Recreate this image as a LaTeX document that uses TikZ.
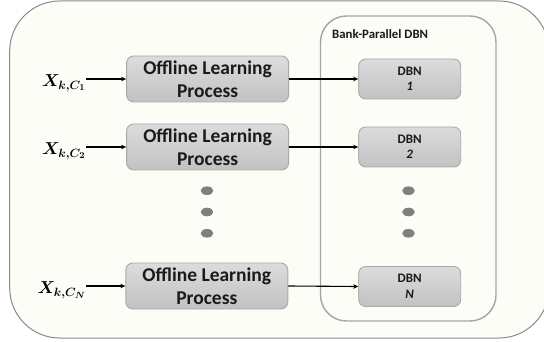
\documentclass[tikz,border=0pt]{standalone}
\usepackage{fontspec}
\setmainfont{Carlito}
\usepackage{amsmath}
\usepackage{bm}
\usetikzlibrary{arrows.meta}
\definecolor{pagecream}{HTML}{FDFDF8}
\definecolor{framegray}{HTML}{8A8A8A}
\definecolor{bankgray}{HTML}{A4A4A4}
\definecolor{boxtop}{HTML}{DCDCDC}
\definecolor{boxbot}{HTML}{C2C2C2}
\definecolor{boxline}{HTML}{A8A8A8}
\definecolor{dotgray}{HTML}{7F7F7F}
\definecolor{inktext}{HTML}{1A1A1A}
\tikzset{
  learnbox/.style={draw=boxline, line width=0.9pt, rounded corners=7pt,
    top color=boxtop, bottom color=boxbot, minimum width=162pt, minimum height=46pt,
    inner sep=0pt, align=center, text=inktext,
    font=\fontsize{19.5}{23.4}\selectfont\bfseries},
  dbnbox/.style={draw=boxline, line width=0.9pt, rounded corners=7pt,
    top color=boxtop, bottom color=boxbot, minimum width=102pt, minimum height=40pt,
    inner sep=0pt, align=center, text=inktext,
    font=\fontsize{13}{15.5}\selectfont\bfseries},
  inlabel/.style={inner sep=0pt, anchor=base east, font=\fontsize{18}{21}\selectfont},
  feed/.style={line width=1.1pt, -{Stealth[length=5pt,width=4.5pt]}},
  dotmark/.style={fill=dotgray, draw=none},
}
\begin{document}
\begin{tikzpicture}[x=1pt,y=-1pt]
  \useasboundingbox (0,0) rectangle (544,342);
  \clip (0,0) rectangle (544,342);
  \fill[white] (0,0) rectangle (544,342);
  % outer frame
  \draw[framegray, line width=1pt, fill=pagecream, rounded corners=50pt]
    (9.7,1) rectangle (549,338);
  % bank of parallel networks
  \draw[bankgray, line width=1.4pt, rounded corners=26pt]
    (320.5,16) rectangle (496,321);
  \node[anchor=west, inner sep=0pt, text=inktext,
        font=\fontsize{12.8}{15}\selectfont\bfseries] (banklbl) at (332,34.5) {Bank-Parallel DBN};

  % learning stages
  \node[learnbox] (p1) at (207.6,79) {Offline Learning\\Process};
  \node[learnbox] (p2) at (207.6,147) {Offline Learning\\Process};
  \node[learnbox] (pn) at (206.8,286) {Offline Learning\\Process};

  % DBN units
  \node[dbnbox] (d1) at (409.7,79) {DBN\\\itshape 1};
  \node[dbnbox] (d2) at (409.7,147) {DBN\\\itshape 2};
  \node[dbnbox] (dn) at (409.7,286.5) {DBN\\\itshape N};

  % inputs
  \node[inlabel] (x1) at (86,86.5) {$\bm{X_{k,C_1}}$};
  \node[inlabel] (x2) at (86,154.5) {$\bm{X_{k,C_2}}$};
  \node[inlabel] (xn) at (86,293.5) {$\bm{X_{k,C_N}}$};

  % connectors
  \draw[feed] (x1.east |- p1.west) -- (p1.west);
  \draw[feed] (x2.east |- p2.west) -- (p2.west);
  \draw[feed] (xn.east |- pn.west) -- (pn.west);
  \draw[feed] (p1.east) -- (d1.west);
  \draw[feed] (p2.east) -- (d2.west);
  \draw[feed] (pn.east) -- (dn.west);

  % ellipsis dots
  \foreach \yy in {190.7,212,233.3} {
    \fill[dotmark] (207,\yy) ellipse (6.3pt and 4.3pt);
    \fill[dotmark] (408.5,\yy) ellipse (6.3pt and 4.3pt);
  }
\end{tikzpicture}
\end{document}
